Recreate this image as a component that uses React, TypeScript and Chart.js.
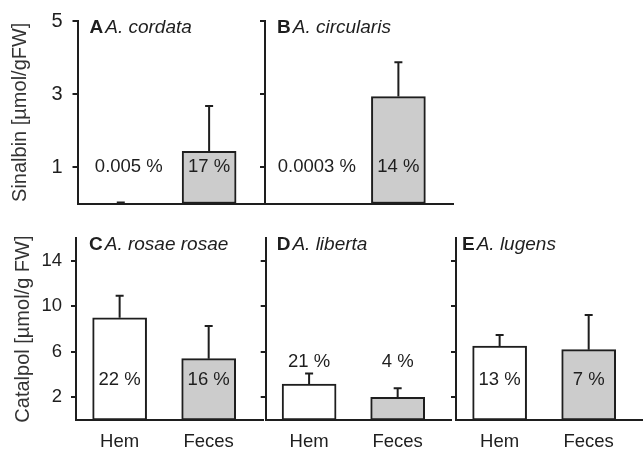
import React, { useEffect, useRef } from "react";
import { Chart, registerables } from "chart.js";

Chart.register(...registerables);

// ---------- data ----------
const categories = ["Hem", "Feces"];

const sinalbinTicks = [1, 3, 5];
const catalpolTicks = [2, 6, 10, 14];

// A. cordata (sinalbin)
const cordataMeans = [0, 1.43];
const cordataErrors = [0.03, 1.24];
const cordataPct = ["0.005 %", "17 %"];

// A. circularis (sinalbin)
const circularisMeans = [0, 2.93];
const circularisErrors = [0, 0.94];
const circularisPct = ["0.0003 %", "14 %"];

// A. rosae rosae (catalpol)
const rosaeMeans = [9.0, 5.4];
const rosaeErrors = [1.94, 2.87];
const rosaePct = ["22 %", "16 %"];

// A. liberta (catalpol)
const libertaMeans = [3.17, 2.0];
const libertaErrors = [0.93, 0.79];
const libertaPct = ["21 %", "4 %"];

// A. lugens (catalpol)
const lugensMeans = [6.51, 6.19];
const lugensErrors = [0.97, 3.05];
const lugensPct = ["13 %", "7 %"];

// ---------- styles ----------
const FONT = '"Liberation Sans", Arial, sans-serif';
const INK = "#1e1e1e";
const barFills = ["#ffffff", "#cccccc"];

type Geom = {
  left: number;
  top: number;
  w: number;
  h: number;
  yAxisW: number;
  padTop: number;
  padRight: number;
  xAxisH: number;
};

type PanelDef = {
  letter: string;
  species: string;
  means: number[];
  errors: number[];
  pct: string[];
  pctDx: number[];
  yMax: number;
  yTicks: number[];
  showTickLabels: boolean;
  tickFont: number;
  tickPad: number;
  yTitle?: string;
  yTitlePad?: number;
  showCategoryLabels: boolean;
  labelLevel: number;
  titleOffset: number;
  geom: Geom;
};

const panels: PanelDef[] = [
  {
    letter: "A",
    species: "A. cordata",
    means: cordataMeans,
    errors: cordataErrors,
    pct: cordataPct,
    pctDx: [8, 0],
    yMax: 5,
    yTicks: sinalbinTicks,
    showTickLabels: true,
    tickFont: 20,
    tickPad: 10,
    yTitle: "Sinalbin [µmol/gFW]",
    yTitlePad: 8.5,
    showCategoryLabels: false,
    labelLevel: 1.0,
    titleOffset: 12,
    geom: { left: 0, top: 0, w: 264, h: 210, yAxisW: 77.5, padTop: 21, padRight: 1, xAxisH: 6.5 },
  },
  {
    letter: "B",
    species: "A. circularis",
    means: circularisMeans,
    errors: circularisErrors,
    pct: circularisPct,
    pctDx: [8, 0],
    yMax: 5,
    yTicks: sinalbinTicks,
    showTickLabels: false,
    tickFont: 20,
    tickPad: 10,
    showCategoryLabels: false,
    labelLevel: 1.0,
    titleOffset: 12,
    geom: { left: 255, top: 0, w: 199, h: 210, yAxisW: 10, padTop: 21, padRight: 1, xAxisH: 6.5 },
  },
  {
    letter: "C",
    species: "A. rosae rosae",
    means: rosaeMeans,
    errors: rosaeErrors,
    pct: rosaePct,
    pctDx: [0, 0],
    yMax: 16,
    yTicks: catalpolTicks,
    showTickLabels: true,
    tickFont: 18.5,
    tickPad: 9,
    yTitle: "Catalpol [µmol/g FW]",
    yTitlePad: 11,
    showCategoryLabels: true,
    labelLevel: 3.55,
    titleOffset: 13,
    geom: { left: 0, top: 215, w: 264, h: 235, yAxisW: 76, padTop: 23.2, padRight: 1, xAxisH: 30 },
  },
  {
    letter: "D",
    species: "A. liberta",
    means: libertaMeans,
    errors: libertaErrors,
    pct: libertaPct,
    pctDx: [0, 0],
    yMax: 16,
    yTicks: catalpolTicks,
    showTickLabels: false,
    tickFont: 18.5,
    tickPad: 9,
    showCategoryLabels: true,
    labelLevel: 5.1,
    titleOffset: 11,
    geom: { left: 255, top: 215, w: 198, h: 235, yAxisW: 10.7, padTop: 23.2, padRight: 1.3, xAxisH: 30 },
  },
  {
    letter: "E",
    species: "A. lugens",
    means: lugensMeans,
    errors: lugensErrors,
    pct: lugensPct,
    pctDx: [0, 0],
    yMax: 16,
    yTicks: catalpolTicks,
    showTickLabels: false,
    tickFont: 18.5,
    tickPad: 9,
    showCategoryLabels: true,
    labelLevel: 3.55,
    titleOffset: 6,
    geom: { left: 446, top: 215, w: 197, h: 235, yAxisW: 10, padTop: 23.2, padRight: 0, xAxisH: 30 },
  },
];

function Panel({ def }: { def: PanelDef }) {
  const ref = useRef<HTMLCanvasElement>(null);

  useEffect(() => {
    if (!ref.current) return;
    const g = def.geom;

    const deco = {
      id: "deco",
      afterDatasetsDraw(chart: any) {
        const ctx = chart.ctx as CanvasRenderingContext2D;
        const meta = chart.getDatasetMeta(0);
        const ys = chart.scales.y;
        ctx.save();
        // error bars (upper only)
        ctx.strokeStyle = INK;
        ctx.lineWidth = 2;
        meta.data.forEach((bar: any, i: number) => {
          const e = def.errors[i];
          if (!e) return;
          const top = ys.getPixelForValue(def.means[i] + e);
          ctx.beginPath();
          ctx.moveTo(bar.x, bar.y);
          ctx.lineTo(bar.x, top);
          ctx.moveTo(bar.x - 4, top);
          ctx.lineTo(bar.x + 4, top);
          ctx.stroke();
        });
        // percentage labels
        ctx.fillStyle = INK;
        ctx.font = `18.5px ${FONT}`;
        ctx.textAlign = "center";
        ctx.textBaseline = "middle";
        const ly = ys.getPixelForValue(def.labelLevel);
        meta.data.forEach((bar: any, i: number) => {
          ctx.fillText(def.pct[i], bar.x + def.pctDx[i], ly);
        });
        // panel title
        const ca = chart.chartArea;
        ctx.textAlign = "left";
        ctx.textBaseline = "alphabetic";
        const tx = ca.left + def.titleOffset;
        const ty = ca.top + 12;
        ctx.font = `bold 19px ${FONT}`;
        ctx.fillText(def.letter, tx, ty);
        const w = ctx.measureText(def.letter).width;
        ctx.font = `italic 19px ${FONT}`;
        ctx.fillText(def.species, tx + w + 2, ty);
        ctx.restore();
      },
    };

    const chart = new Chart(ref.current, {
      type: "bar",
      data: {
        datasets: [
          {
            data: def.means.map((m, i) => ({ x: i, y: m })),
            backgroundColor: barFills,
            borderColor: INK,
            borderWidth: 2,
            borderSkipped: false,
            barThickness: 54,
          },
        ],
      },
      options: {
        responsive: false,
        animation: false,
        events: [],
        layout: { padding: { top: g.padTop, right: g.padRight, left: 0, bottom: 0 } },
        plugins: { legend: { display: false }, tooltip: { enabled: false } },
        scales: {
          x: {
            type: "linear",
            min: -0.49,
            max: 1.61,
            offset: false,
            afterBuildTicks: (s: any) => {
              s.ticks = categories.map((_, i) => ({ value: i }));
            },
            afterFit: (s: any) => {
              s.height = g.xAxisH;
              s.paddingLeft = 0;
              s.paddingRight = 0;
            },
            grid: { display: false, drawTicks: false },
            border: { display: true, color: INK, width: 2 },
            ticks: {
              display: def.showCategoryLabels,
              callback: (v: any) => categories[v as number],
              font: { family: FONT, size: 18.5 },
              color: INK,
              padding: 10.7,
              maxRotation: 0,
              autoSkip: false,
            },
          },
          y: {
            type: "linear",
            min: 0,
            max: def.yMax,
            afterBuildTicks: (s: any) => {
              s.ticks = def.yTicks.map((v) => ({ value: v }));
            },
            afterFit: (s: any) => {
              s.width = g.yAxisW;
              s.paddingTop = 0;
              s.paddingBottom = 0;
            },
            grid: {
              display: true,
              drawOnChartArea: false,
              drawTicks: true,
              tickLength: 5,
              color: INK,
              lineWidth: 2,
            },
            border: { display: true, color: INK, width: 2 },
            ticks: {
              display: def.showTickLabels,
              font: { family: FONT, size: def.tickFont },
              color: INK,
              padding: def.tickPad,
            },
            title: def.yTitle
              ? {
                  display: true,
                  text: def.yTitle,
                  font: { family: FONT, size: 20 },
                  color: "#333",
                  padding: { top: def.yTitlePad ?? 0, bottom: 0 },
                }
              : { display: false },
          },
        },
      },
      plugins: [deco],
    } as any);

    return () => chart.destroy();
  }, [def]);

  const g = def.geom;
  return (
    <canvas
      ref={ref}
      width={g.w}
      height={g.h}
      style={{ position: "absolute", left: g.left, top: g.top }}
    />
  );
}

export default function App() {
  return (
    <div
      style={{
        position: "absolute",
        left: 0,
        top: 0,
        width: 643,
        height: 450,
        background: "#ffffff",
        overflow: "hidden",
      }}
    >
      {panels.map((p) => (
        <Panel key={p.letter} def={p} />
      ))}
    </div>
  );
}
